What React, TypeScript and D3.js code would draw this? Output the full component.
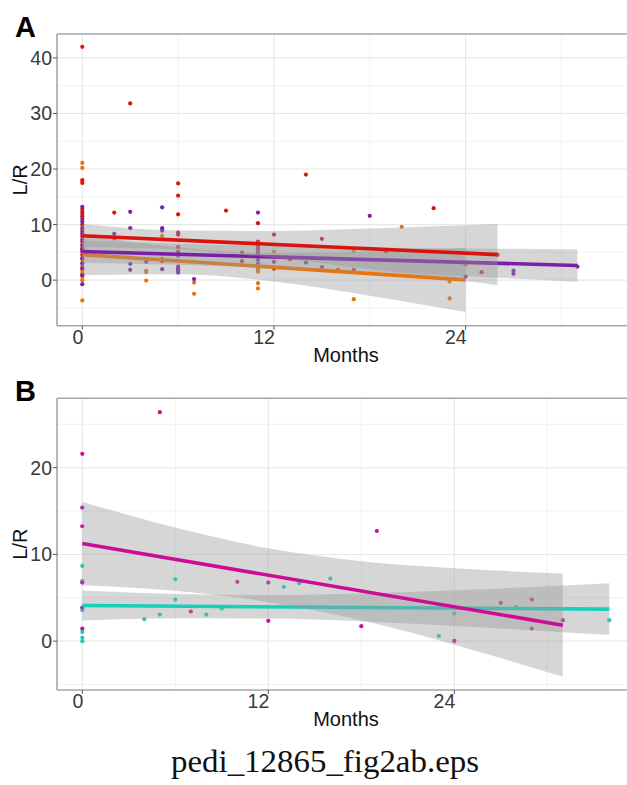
import React from 'react';
import * as d3 from 'd3';

type Pt = [number, number];
type Band = [number, number, number];

// tick values
const monthTicks = [0, 12, 24];
const monthMinor = [6, 18, 30];
const yTicksA = [0, 10, 20, 30, 40];
const yMinorA = [-5, 5, 15, 25, 35];
const yTicksB = [0, 10, 20];
const yMinorB = [-5, 5, 15, 25];

// panel A points [month, L/R]
const redA: Pt[] = [
  [0, 42], [0, 18.0], [0, 17.5], [0, 12.8], [0, 11.9], [0, 11.5], [0, 10.0], [0, 7.85], [0, 6.85], [0, 5.45], [0, 4.55],
  [2, 12.16], [3, 31.8], [5, 3.78], [5, 3.42], [6, 17.4], [6, 15.2], [6, 11.85], [6, 8.57], [6, 5.93], [6, 5.09],
  [9, 12.52], [10, 4.97], [10, 3.42], [11, 10.25], [11, 6.95], [11, 6.17], [11, 5.33], [11, 4.37], [12, 8.2], [12, 2.03],
  [13, 3.78], [14, 19.0], [15, 7.43], [16, 1.85], [17, 1.85], [19, 5.15], [22, 12.95], [25, 1.43], [26, 4.55],
];
const orangeA: Pt[] = [
  [0, 21.1], [0, 20.2], [0, 9.05], [0, 3.66], [0, 2.58], [0, 1.8], [0, 1.2], [0, 0.6], [0, 0], [0, -3.66],
  [4, 1.67], [4, 1.45], [4, -0.07], [5, 7.97], [7, -0.43], [7, -2.46], [11, 1.98], [11, 1.55], [11, -0.54], [11, -1.5],
  [12, 5.15], [17, 5.27], [17, -3.42], [20, 9.6], [23, -0.25], [23, -3.3], [24, 2.8],
];
const purpleA: Pt[] = [
  [0, 13.2], [0, 12.3], [0, 11.0], [0, 10.5], [0, 9.4], [0, 8.7], [0, 8.3], [0, 7.25], [0, 6.3], [0, 5.75], [0, 5.15],
  [0, 3.96], [0, 3.06], [0, 2.16], [0, 0.9], [0, -0.72],
  [2, 8.33], [2, 7.5], [3, 12.3], [3, 9.35], [3, 2.93], [3, 1.85], [4, 3.3], [5, 13.1], [5, 9.35], [5, 8.9], [5, 1.98],
  [6, 8.2], [6, 4.85], [6, 4.37], [6, 2.45], [6, 2.09], [6, 1.85], [6, 1.67], [6, 1.37], [7, 0.2],
  [11, 12.16], [11, 6.53], [11, 5.75], [11, 4.85], [11, 3.65], [11, 2.93], [12, 3.3], [14, 3.17], [15, 2.34],
  [18, 11.57], [24, 0.65], [27, 1.73], [27, 1.13], [31, 2.45],
];

// panel A fitted lines and confidence bands [month, lo, hi]
const purpleFitA: Pt[] = [[0, 5.15], [31, 2.63]];
const orangeFitA: Pt[] = [[0, 4.6], [24, 0.05]];
const redFitA: Pt[] = [[0, 8.0], [26, 4.6]];
const purpleBandA: Band[] = [[0, 3.15, 7.15], [6, 2.76, 6.56], [12, 2.17, 6.17], [18, 1.49, 5.89], [24, 0.7, 5.7], [31, -0.27, 5.53]];
const orangeBandA: Band[] = [[0, 0.9, 8.3], [6, 1.05, 5.87], [12, -0.23, 4.87], [18, -2.79, 5.17], [24, -5.75, 5.85]];
const redBandA: Band[] = [[0, 5.9, 10.1], [6, 5.51, 8.93], [12, 4.0, 8.86], [18, 2.0, 9.3], [24, -0.17, 9.89], [26, -0.9, 10.1]];

// panel B points
const magentaB: Pt[] = [
  [0, 21.6], [0, 15.4], [0, 13.25], [0, 6.76], [0, 3.88], [0, 1.46], [5, 26.4], [7, 3.42], [10, 6.84], [12, 6.76],
  [12, 2.34], [18, 1.73], [19, 12.7], [24, 0.03], [27, 4.41], [29, 4.8], [29, 1.46], [31, 2.42],
];
const tealB: Pt[] = [
  [0, 8.68], [0, 6.95], [0, 3.57], [0, 1.07], [0, 0.38], [0, 0], [4, 2.53], [5, 3.07], [6, 7.14], [6, 4.8], [8, 3.07],
  [9, 3.76], [13, 6.26], [14, 6.68], [16, 7.22], [21, 3.88], [23, 0.61], [24, 3.19], [28, 3.95], [34, 2.42],
];
const magentaFitB: Pt[] = [[0, 11.25], [31, 1.84]];
const tealFitB: Pt[] = [[0, 4.11], [34, 3.69]];
const magentaBandB: Band[] = [[0, 6.45, 16.05], [6, 5.8, 13.1], [12, 4.5, 10.7], [18, 2.4, 9.2], [24, -0.4, 8.4], [31, -4.1, 7.8]];
const tealBandB: Band[] = [[0, 2.38, 5.84], [6, 2.64, 5.44], [12, 2.61, 5.31], [18, 2.29, 5.49], [24, 1.76, 5.86], [34, 0.71, 6.67]];

const FONT = "'Liberation Sans', Arial, Helvetica, sans-serif";

interface Series { pts: Pt[]; fit: Pt[]; band: Band[]; color: string }

interface PanelProps {
  id: string;
  label: string;
  top: number;
  bottom: number;
  left: number;
  right: number;
  xDomain: [number, number];
  yDomain: [number, number];
  yTicks: number[];
  yMinor: number[];
  series: Series[];
}

function Panel({ id, label, top, bottom, left, right, xDomain, yDomain, yTicks, yMinor, series }: PanelProps) {
  const x = d3.scaleLinear().domain(xDomain).range([left, right]);
  const y = d3.scaleLinear().domain(yDomain).range([bottom, top]);
  const line = d3.line<Pt>().x(d => x(d[0])).y(d => y(d[1]));
  const area = d3.area<Band>().x(d => x(d[0])).y0(d => y(d[1])).y1(d => y(d[2])).curve(d3.curveMonotoneX);
  const midY = (top + bottom) / 2;
  const midX = (left + 635) / 2;

  return (
    <g>
      <defs>
        <clipPath id={id}>
          <rect x={left} y={top} width={right - left} height={bottom - top} />
        </clipPath>
      </defs>
      {/* grid */}
      {yMinor.map(v => (
        <line key={'ym' + v} x1={left} x2={right} y1={y(v)} y2={y(v)} stroke="#f2f2f2" strokeWidth={1} />
      ))}
      {monthMinor.map(v => (
        <line key={'xm' + v} x1={x(v)} x2={x(v)} y1={top} y2={bottom} stroke="#f2f2f2" strokeWidth={1} />
      ))}
      {yTicks.map(v => (
        <line key={'y' + v} x1={left} x2={right} y1={y(v)} y2={y(v)} stroke="#e8e8e8" strokeWidth={1.1} />
      ))}
      {monthTicks.map(v => (
        <line key={'x' + v} x1={x(v)} x2={x(v)} y1={top} y2={bottom} stroke="#e8e8e8" strokeWidth={1.1} />
      ))}

      <g clipPath={`url(#${id})`}>
        {series.map((s, i) =>
          s.pts.map((p, j) => <circle key={i + '-' + j} cx={x(p[0])} cy={y(p[1])} r={2.1} fill={s.color} />)
        )}
        {series.map((s, i) => (
          <g key={'s' + i}>
            <path d={area(s.band) || ''} fill="#999999" fillOpacity={0.4} />
            <path d={line(s.fit) || ''} fill="none" stroke={s.color} strokeWidth={3.6} />
          </g>
        ))}
      </g>

      {/* frame */}
      <line x1={left} x2={right} y1={top} y2={top} stroke="#a6a6a6" strokeWidth={1.6} />
      <line x1={left} x2={left} y1={top} y2={bottom} stroke="#a6a6a6" strokeWidth={1.6} />
      <line x1={left} x2={right} y1={bottom} y2={bottom} stroke="#a6a6a6" strokeWidth={1.6} />

      {/* axes */}
      {yTicks.map(v => (
        <g key={'yt' + v}>
          <line x1={left - 4} x2={left} y1={y(v)} y2={y(v)} stroke="#555" strokeWidth={1} />
          <text x={left - 5} y={y(v)} dy="0.36em" textAnchor="end" fontSize={19.5} fill="#3a3a3a" fontFamily={FONT}>{v}</text>
        </g>
      ))}
      {monthTicks.map(v => (
        <g key={'xt' + v}>
          <line x1={x(v)} x2={x(v)} y1={bottom} y2={bottom + 4} stroke="#555" strokeWidth={1} />
          <text x={x(v) + 1} y={bottom + 18} textAnchor="end" fontSize={19.5} fill="#3a3a3a" fontFamily={FONT}>{v}</text>
        </g>
      ))}
      <text x={midX} y={bottom + 36} textAnchor="middle" fontSize={20} fill="#111" fontFamily={FONT}>Months</text>
      <text transform={`translate(${27},${midY}) rotate(-90)`} textAnchor="middle" fontSize={20} fill="#111" fontFamily={FONT}>L/R</text>
      <text x={15} y={top + 3} fontSize={29} fontWeight={900} fill="#000" fontFamily={FONT}>{label}</text>
    </g>
  );
}

export default function App() {
  const W = 627;
  const H = 785;
  // draw order: later groups' ribbons cover earlier groups' lines
  const panelA: Series[] = [
    { pts: orangeA, fit: orangeFitA, band: orangeBandA, color: '#e8740c' },
    { pts: purpleA, fit: purpleFitA, band: purpleBandA, color: '#7a1fa8' },
    { pts: redA, fit: redFitA, band: redBandA, color: '#d8140c' },
  ];
  const panelB: Series[] = [
    { pts: tealB, fit: tealFitB, band: tealBandB, color: '#16d0bc' },
    { pts: magentaB, fit: magentaFitB, band: magentaBandB, color: '#cc0c96' },
  ];
  const kA = 15.97;
  const kB = 15.5;
  return (
    <svg width={W} height={H} style={{ position: 'absolute', left: 0, top: 0, background: '#fff' }}>
      <rect width={W} height={H} fill="#fff" />
      <Panel
        id="clipA" label="A" top={34} bottom={325.7} left={57} right={645}
        xDomain={[(57 - 82.3) / kA, (645 - 82.3) / kA]} yDomain={[-8.2, 44.3]}
        yTicks={yTicksA} yMinor={yMinorA} series={panelA}
      />
      <Panel
        id="clipB" label="B" top={398.3} bottom={690} left={57} right={645}
        xDomain={[(57 - 82.3) / kB, (645 - 82.3) / kB]} yDomain={[-5.63, 28.0]}
        yTicks={yTicksB} yMinor={yMinorB} series={panelB}
      />
      <text x={325} y={772} textAnchor="middle" fontSize={31} textLength={308} lengthAdjust="spacingAndGlyphs" fill="#111" fontFamily="'Liberation Serif', 'DejaVu Serif', serif">pedi_12865_fig2ab.eps</text>
    </svg>
  );
}
